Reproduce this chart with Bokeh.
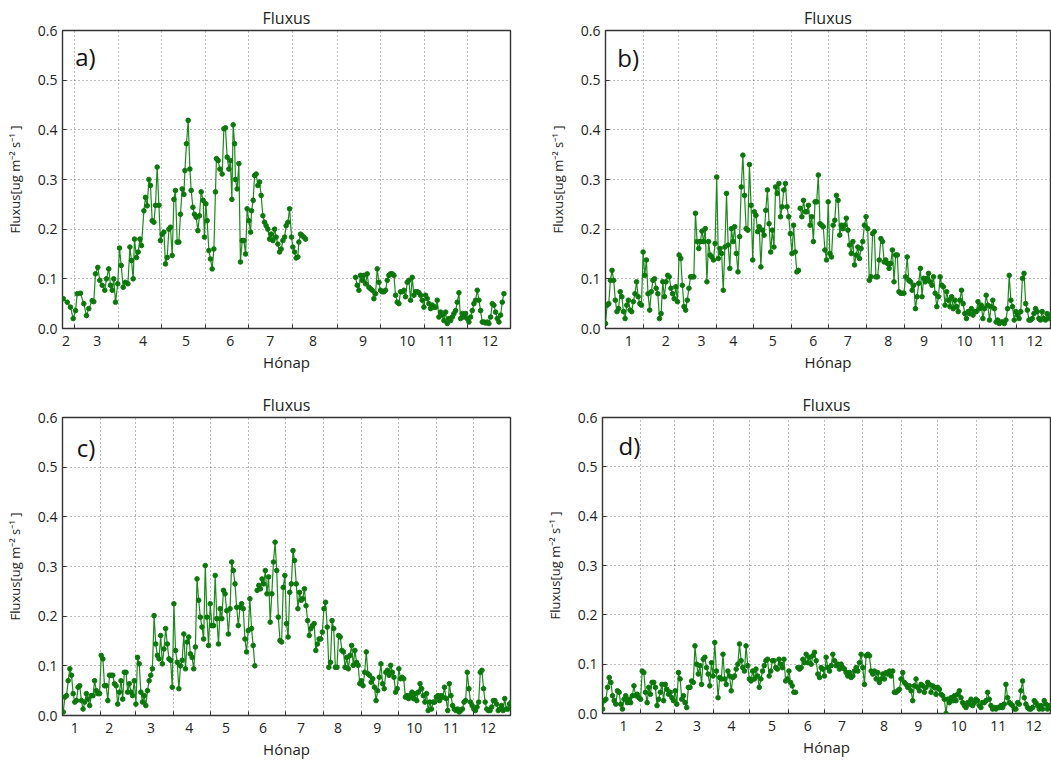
import numpy as np
from bokeh.plotting import figure
from bokeh.layouts import row, column
from bokeh.models import FixedTicker, PrintfTickFormatter, Label, Range1d
from bokeh.embed import file_html
from bokeh.resources import INLINE

# ---------------------------------------------------------------- data
# x values are day of year, y values are flux in ug m-2 s-1
MONTH_STARTS = [31, 59, 90, 120, 151, 181, 212, 243, 273, 304, 334]
Y_TICKS = [0.0, 0.1, 0.2, 0.3, 0.4, 0.5, 0.6]
Y_TITLE = "Fluxus[ug m\u207b\u00b2 s\u207b\u00b9 ]"
X_TITLE = "Hónap"
PLOT_TITLE = "Fluxus"

# panel a)
A_MONTHS = ["2", "3", "4", "5", "6", "7", "8", "9", "10", "11", "12"]
A_MONTH_POS = [53, 75, 107, 137, 168, 196, 226, 261, 292, 319, 350]
A_DAYS_1 = [51.1, 53.9, 56.2, 58.1, 59.7, 60.9, 63.2, 65.5, 67.4, 69.0,
            71.4, 72.5, 73.7, 75.3, 76.7, 78.4, 80.2, 81.4, 83.0, 84.2,
            85.4, 86.5, 87.7, 89.3, 90.5, 91.7, 93.1, 94.7, 96.4, 97.8,
            98.9, 100.1, 101.0, 102.4, 103.6, 104.8, 105.9, 107.6, 108.7, 109.9,
            111.1, 112.2, 113.4, 114.6, 115.7, 116.9, 118.1, 119.2, 120.4, 121.6,
            122.7, 123.9, 125.1, 126.2, 127.4, 128.6, 129.7, 130.9, 132.1, 133.2,
            134.4, 135.6, 136.3, 137.4, 138.6, 139.8, 140.7, 141.9, 143.0, 144.2,
            145.4, 146.5, 147.7, 149.1, 150.0, 151.0, 151.9, 153.1, 154.2, 155.4,
            156.6, 157.7, 158.4, 159.6, 160.8, 162.4, 163.6, 164.7, 165.9, 167.1,
            168.2, 169.2, 170.1, 171.1, 171.7, 172.9, 174.1, 175.2, 176.4, 177.6,
            178.8, 179.9, 181.1, 182.3, 183.0, 184.1, 185.1, 186.2, 187.4, 188.6,
            189.7, 190.9, 192.1, 193.2, 194.4, 195.6, 196.7, 197.9, 199.1, 200.2,
            201.4, 202.6, 203.7, 204.9, 206.1, 207.2, 208.4, 209.6, 211.0, 211.9,
            213.1, 214.2, 215.4, 216.1, 217.3, 218.4, 219.6, 220.8]
A_FLUX_1 = [0.06, 0.053, 0.043, 0.02, 0.036, 0.07, 0.071, 0.05, 0.026, 0.04,
            0.056, 0.054, 0.11, 0.123, 0.097, 0.087, 0.077, 0.1, 0.12, 0.087,
            0.077, 0.1, 0.053, 0.09, 0.162, 0.127, 0.083, 0.093, 0.09, 0.164,
            0.137, 0.1, 0.18, 0.143, 0.154, 0.18, 0.167, 0.237, 0.264, 0.247,
            0.3, 0.288, 0.217, 0.214, 0.248, 0.325, 0.248, 0.177, 0.19, 0.194,
            0.13, 0.143, 0.2, 0.204, 0.147, 0.26, 0.278, 0.174, 0.174, 0.23,
            0.281, 0.27, 0.318, 0.372, 0.419, 0.321, 0.278, 0.244, 0.23, 0.224,
            0.197, 0.227, 0.275, 0.258, 0.184, 0.251, 0.217, 0.157, 0.14, 0.12,
            0.16, 0.275, 0.342, 0.338, 0.321, 0.311, 0.402, 0.404, 0.345, 0.321,
            0.338, 0.26, 0.41, 0.372, 0.3, 0.281, 0.332, 0.134, 0.177, 0.177,
            0.15, 0.241, 0.217, 0.194, 0.237, 0.258, 0.308, 0.311, 0.288, 0.295,
            0.268, 0.227, 0.214, 0.207, 0.2, 0.18, 0.19, 0.177, 0.2, 0.184,
            0.17, 0.154, 0.16, 0.177, 0.184, 0.207, 0.214, 0.241, 0.184, 0.164,
            0.154, 0.142, 0.144, 0.174, 0.19, 0.187, 0.184, 0.18]
A_SPAN_2 = (255.8, 359.7)
A_FLUX_2 = [0.103, 0.087, 0.077, 0.107, 0.097, 0.107, 0.09, 0.11, 0.083, 0.08,
            0.077, 0.06, 0.07, 0.12, 0.093, 0.077, 0.074, 0.074, 0.077, 0.097,
            0.107, 0.11, 0.11, 0.107, 0.067, 0.053, 0.05, 0.074, 0.074, 0.077,
            0.064, 0.093, 0.097, 0.057, 0.103, 0.067, 0.074, 0.074, 0.072, 0.067,
            0.057, 0.043, 0.067, 0.06, 0.05, 0.04, 0.047, 0.043, 0.043, 0.057,
            0.023, 0.033, 0.027, 0.016, 0.033, 0.01, 0.02, 0.016, 0.023, 0.03,
            0.036, 0.053, 0.072, 0.02, 0.03, 0.023, 0.03, 0.02, 0.013, 0.023,
            0.036, 0.05, 0.057, 0.077, 0.057, 0.036, 0.013, 0.013, 0.011, 0.013,
            0.01, 0.023, 0.05, 0.047, 0.033, 0.02, 0.013, 0.027, 0.053, 0.07]

# panel b)
B_MONTHS = ["1", "2", "3", "4", "5", "6", "7", "8", "9", "10", "11", "12"]
B_MONTH_POS = [19, 49, 78, 104, 136, 169, 197, 230, 259, 292, 319, 349]
B_SPAN_1 = (0.0, 157.0)
B_FLUX_1 = [0.01, 0.047, 0.05, 0.097, 0.117, 0.097, 0.057, 0.034, 0.04, 0.074,
            0.064, 0.034, 0.02, 0.047, 0.057, 0.037, 0.034, 0.054, 0.07, 0.094,
            0.064, 0.05, 0.047, 0.154, 0.107, 0.138, 0.07, 0.037, 0.074, 0.097,
            0.1, 0.081, 0.07, 0.02, 0.03, 0.094, 0.064, 0.094, 0.107, 0.104,
            0.081, 0.07, 0.06, 0.084, 0.054, 0.148, 0.141, 0.087, 0.044, 0.037,
            0.057, 0.081, 0.104, 0.104, 0.104, 0.232, 0.175, 0.161, 0.175, 0.196,
            0.175, 0.201, 0.094, 0.175, 0.148, 0.144, 0.138, 0.171, 0.305, 0.141,
            0.161, 0.151, 0.077, 0.164, 0.272, 0.168, 0.121, 0.201, 0.175, 0.205,
            0.151, 0.114, 0.185, 0.285, 0.349, 0.268, 0.201, 0.198, 0.33, 0.248,
            0.138, 0.235, 0.228, 0.195, 0.205, 0.124, 0.198, 0.188, 0.238, 0.279,
            0.211, 0.154, 0.198, 0.164, 0.285, 0.272, 0.292, 0.225, 0.245, 0.279,
            0.292, 0.245, 0.225, 0.191, 0.151, 0.208, 0.154, 0.114, 0.117]
B_SPAN_2 = (158.4, 361.9)
B_FLUX_2 = [0.242, 0.225, 0.258, 0.235, 0.235, 0.248, 0.208, 0.225, 0.175, 0.255,
            0.255, 0.309, 0.211, 0.208, 0.205,
            0.158, 0.138, 0.255, 0.151, 0.144, 0.208, 0.218, 0.268, 0.258, 0.188,
            0.208, 0.201, 0.208, 0.222, 0.198, 0.168, 0.151, 0.175, 0.128, 0.148,
            0.164, 0.141, 0.161, 0.175, 0.208, 0.225, 0.201, 0.097, 0.104, 0.191,
            0.195, 0.104, 0.104, 0.138, 0.181, 0.175, 0.134, 0.138, 0.131, 0.121,
            0.131, 0.158, 0.094, 0.148, 0.148, 0.074, 0.071, 0.071, 0.071, 0.104,
            0.144, 0.097, 0.094, 0.077, 0.087, 0.04, 0.064, 0.091, 0.121, 0.064,
            0.101, 0.094, 0.101, 0.111, 0.094, 0.087, 0.104, 0.071, 0.044, 0.064,
            0.104, 0.087, 0.084, 0.047, 0.074, 0.057, 0.044, 0.064, 0.04, 0.057,
            0.044, 0.034, 0.057, 0.077, 0.05, 0.03, 0.02, 0.034, 0.03, 0.04,
            0.027, 0.034, 0.034, 0.054, 0.04, 0.047, 0.02, 0.04, 0.067, 0.047,
            0.017, 0.044, 0.057, 0.04, 0.013, 0.017, 0.01, 0.013, 0.013, 0.01,
            0.017, 0.04, 0.107, 0.057, 0.044, 0.017, 0.034, 0.027, 0.02, 0.034,
            0.101, 0.111, 0.05, 0.037, 0.017, 0.017, 0.02, 0.03, 0.04, 0.034,
            0.02, 0.017, 0.034, 0.02, 0.017, 0.03, 0.02, 0.027]

# panel c)
C_MONTHS = ["1", "2", "3", "4", "5", "6", "7", "8", "9", "10", "11", "12"]
C_MONTH_POS = [10, 38, 72, 103, 133, 163, 194, 224, 256, 286, 316, 346]
C_SPAN_1 = (0.6, 156.4)
C_FLUX_1 = [0.007, 0.037, 0.04, 0.07, 0.094, 0.081, 0.044, 0.027, 0.03, 0.057,
            0.06, 0.03, 0.013, 0.027, 0.044, 0.033, 0.02, 0.04, 0.04, 0.07,
            0.05, 0.044, 0.044, 0.121, 0.114, 0.06, 0.06, 0.03, 0.081, 0.081,
            0.081, 0.064, 0.06, 0.023, 0.047, 0.07, 0.033, 0.087, 0.087, 0.047,
            0.064, 0.047, 0.04, 0.07, 0.023, 0.117, 0.104, 0.047, 0.027, 0.04,
            0.02, 0.05, 0.07, 0.081, 0.094, 0.201, 0.144, 0.121, 0.114, 0.161,
            0.104, 0.134, 0.175, 0.144, 0.114, 0.111, 0.057, 0.225, 0.131, 0.107,
            0.054, 0.1, 0.111, 0.164, 0.094, 0.148, 0.158, 0.124, 0.117, 0.094,
            0.138, 0.275, 0.232, 0.198, 0.178, 0.154, 0.302, 0.198, 0.141, 0.225,
            0.181, 0.181, 0.282, 0.195, 0.144, 0.215, 0.195, 0.252, 0.245, 0.211,
            0.164, 0.215, 0.309, 0.292, 0.265, 0.218, 0.181, 0.218, 0.225, 0.215,
            0.154, 0.128, 0.171, 0.235, 0.175, 0.141, 0.1]
C_SPAN_2 = (158.3, 364.9)
C_FLUX_2 = [0.252, 0.262, 0.255, 0.275, 0.265, 0.292, 0.245, 0.279, 0.188, 0.245,
            0.309, 0.349, 0.292, 0.198, 0.151, 0.148, 0.258,
            0.282, 0.185, 0.158, 0.248, 0.265, 0.332, 0.312, 0.265, 0.215, 0.248,
            0.232, 0.235, 0.255, 0.221, 0.191, 0.161, 0.175, 0.181, 0.185, 0.131,
            0.144, 0.154, 0.154, 0.168, 0.215, 0.228, 0.178, 0.097, 0.107, 0.191,
            0.175, 0.097, 0.097, 0.161, 0.158, 0.131, 0.128, 0.097, 0.117, 0.094,
            0.121, 0.141, 0.101, 0.131, 0.107, 0.101, 0.064, 0.07, 0.06, 0.087,
            0.128, 0.084, 0.081, 0.067, 0.074, 0.057, 0.03, 0.05, 0.077, 0.104,
            0.064, 0.054, 0.087, 0.091, 0.081, 0.101, 0.087, 0.077, 0.047, 0.054,
            0.094, 0.074, 0.077, 0.074, 0.037, 0.04, 0.034, 0.04, 0.047, 0.034,
            0.044, 0.03, 0.047, 0.064, 0.054, 0.04, 0.027, 0.044, 0.01, 0.027,
            0.013, 0.027, 0.027, 0.037, 0.04, 0.03, 0.04, 0.037, 0.057, 0.034,
            0.01, 0.064, 0.04, 0.02, 0.013, 0.01, 0.013, 0.007, 0.01, 0.013,
            0.027, 0.03, 0.087, 0.054, 0.027, 0.02, 0.013, 0.01, 0.017, 0.027,
            0.087, 0.091, 0.054, 0.027, 0.013, 0.01, 0.01, 0.017, 0.03, 0.03,
            0.023, 0.01, 0.013, 0.02, 0.01, 0.034, 0.013, 0.013, 0.023, 0.027]

# panel d)
D_MONTHS = ["1", "2", "3", "4", "5", "6", "7", "8", "9", "10", "11", "12"]
D_MONTH_POS = [17, 46, 77, 105, 138, 167, 195, 229, 257, 290, 322, 351]
D_SPAN_1 = (0.1, 157.1)
D_FLUX_1 = [0.009, 0.026, 0.029, 0.053, 0.073, 0.063, 0.036, 0.026, 0.019, 0.046,
            0.043, 0.019, 0.009, 0.029, 0.036, 0.022, 0.029, 0.022, 0.036, 0.056,
            0.036, 0.039, 0.032, 0.029, 0.086, 0.083, 0.043, 0.022, 0.053, 0.039,
            0.063, 0.063, 0.053, 0.016, 0.029, 0.043, 0.059, 0.026, 0.059, 0.049,
            0.039, 0.043, 0.032, 0.026, 0.046, 0.019, 0.083, 0.07, 0.029, 0.036,
            0.022, 0.012, 0.053, 0.053, 0.066, 0.063, 0.137, 0.1, 0.08, 0.097,
            0.059, 0.11, 0.114, 0.093, 0.08, 0.056, 0.103, 0.076, 0.144, 0.086,
            0.032, 0.073, 0.07, 0.12, 0.07, 0.059, 0.086, 0.076, 0.046, 0.073,
            0.076, 0.09, 0.1, 0.141, 0.107, 0.093, 0.086, 0.137, 0.097, 0.07,
            0.066, 0.086, 0.07, 0.09, 0.076, 0.053, 0.07, 0.086, 0.097, 0.107,
            0.11, 0.076, 0.086, 0.107, 0.107, 0.093, 0.09, 0.11, 0.1, 0.093,
            0.11, 0.066, 0.07, 0.086, 0.063, 0.056, 0.043, 0.043]
D_SPAN_2 = (159.0, 364.9)
D_FLUX_2 = [0.093, 0.09, 0.093, 0.11, 0.103, 0.12, 0.103, 0.114, 0.1, 0.117,
            0.124, 0.107, 0.08, 0.073, 0.093, 0.09, 0.076,
            0.114, 0.093, 0.086, 0.097, 0.12, 0.107, 0.097, 0.1, 0.09, 0.1,
            0.093, 0.09, 0.083, 0.076, 0.083, 0.073, 0.076, 0.086, 0.093, 0.086,
            0.103, 0.12, 0.093, 0.059, 0.117, 0.12, 0.117, 0.086, 0.08, 0.086,
            0.07, 0.083, 0.063, 0.07, 0.08, 0.07, 0.083, 0.08, 0.086, 0.076,
            0.086, 0.043, 0.043, 0.046, 0.049, 0.07, 0.083, 0.063, 0.059, 0.053,
            0.056, 0.046, 0.026, 0.056, 0.07, 0.053, 0.046, 0.059, 0.056, 0.043,
            0.053, 0.063, 0.059, 0.043, 0.056, 0.053, 0.039, 0.053, 0.049, 0.039,
            0.036, 0.029, 0.0, 0.029, 0.022, 0.032, 0.026, 0.036, 0.026, 0.039,
            0.046, 0.032, 0.022, 0.016, 0.012, 0.022, 0.019, 0.029, 0.016, 0.022,
            0.029, 0.026, 0.016, 0.012, 0.022, 0.022, 0.026, 0.043, 0.029, 0.016,
            0.009, 0.012, 0.009, 0.012, 0.012, 0.016, 0.012, 0.019, 0.059, 0.032,
            0.022, 0.019, 0.016, 0.009, 0.009, 0.022, 0.019, 0.046, 0.066, 0.032,
            0.019, 0.012, 0.009, 0.009, 0.012, 0.026, 0.022, 0.016, 0.009, 0.016,
            0.009, 0.026, 0.019, 0.009, 0.016, 0.012]

# ---------------------------------------------------------------- helpers
FONT = "Open Sans"
TEXT = "#222222"
LINE_GREEN = "#1b8a1b"
DOT_GREEN = "#0c780c"


def daily(span, values):
    """Day positions for a run of consecutive observations."""
    return np.linspace(span[0], span[1], len(values))


def join(*segments):
    """Join observation runs, leaving a gap (NaN) between them."""
    xs, ys = [], []
    for i, (d, v) in enumerate(segments):
        if i:
            xs.append(np.nan)
            ys.append(np.nan)
        xs.extend(list(d))
        ys.extend(list(v))
    return np.array(xs, dtype=float), np.array(ys, dtype=float)


def panel(tag, tag_xy, x_range, days, flux, month_pos, months, border, frame):
    left, top, right, bottom = border
    p = figure(frame_width=frame[0], frame_height=frame[1],
               x_range=Range1d(*x_range), y_range=Range1d(0, 0.6),
               output_backend="svg", toolbar_location=None,
               min_border_left=left, min_border_top=top,
               min_border_right=right, min_border_bottom=bottom,
               title=PLOT_TITLE)
    p.background_fill_color = "white"
    p.border_fill_color = "white"
    p.outline_line_color = "#333333"
    p.outline_line_width = 1.4

    p.title.align = "center"
    p.title.text_font = FONT
    p.title.text_font_size = "16px"
    p.title.text_font_style = "normal"
    p.title.text_color = TEXT
    p.title.standoff = 4

    # month labels between the month-start grid lines
    xa = p.xaxis[0]
    xa.ticker = FixedTicker(ticks=month_pos, minor_ticks=MONTH_STARTS)
    xa.major_label_overrides = {d: m for d, m in zip(month_pos, months)}
    xa.major_tick_in = 0
    xa.major_tick_out = 0
    xa.minor_tick_in = 4
    xa.minor_tick_out = 0
    xa.minor_tick_line_color = "#333333"
    xa.axis_line_color = None
    xa.axis_label = X_TITLE
    xa.axis_label_text_font = FONT
    xa.axis_label_text_font_size = "15px"
    xa.axis_label_text_font_style = "normal"
    xa.axis_label_text_color = TEXT
    xa.axis_label_standoff = 3
    xa.major_label_text_font = FONT
    xa.major_label_text_font_size = "14px"
    xa.major_label_text_color = TEXT
    xa.major_label_standoff = 7

    ya = p.yaxis[0]
    ya.ticker = FixedTicker(ticks=Y_TICKS)
    ya.formatter = PrintfTickFormatter(format="%.1f")
    ya.major_tick_in = 4
    ya.major_tick_out = 0
    ya.minor_tick_in = 0
    ya.minor_tick_out = 0
    ya.major_tick_line_color = "#333333"
    ya.axis_line_color = None
    ya.axis_label = Y_TITLE
    ya.axis_label_text_font = FONT
    ya.axis_label_text_font_size = "13px"
    ya.axis_label_text_font_style = "normal"
    ya.axis_label_text_color = TEXT
    ya.axis_label_standoff = 11
    ya.major_label_text_font = FONT
    ya.major_label_text_font_size = "14px"
    ya.major_label_text_color = TEXT
    ya.major_label_standoff = 5

    p.xgrid.ticker = FixedTicker(ticks=MONTH_STARTS)
    p.ygrid.ticker = FixedTicker(ticks=Y_TICKS)
    p.grid.grid_line_color = "#555555"
    p.grid.grid_line_dash = "1 3"
    p.grid.grid_line_width = 1
    p.grid.grid_line_alpha = 0.8

    p.line(days, flux, line_color=LINE_GREEN, line_width=1.2)
    p.scatter(days, flux, marker="circle", size=4.6,
              fill_color=DOT_GREEN, line_color=DOT_GREEN)

    p.add_layout(Label(x=tag_xy[0], y=tag_xy[1], text=tag,
                       text_font=FONT, text_font_size="24px",
                       text_color="#111111", text_baseline="middle",
                       text_align="left"))
    return p


# ---------------------------------------------------------------- panels
a_x, a_y = join((A_DAYS_1, A_FLUX_1), (daily(A_SPAN_2, A_FLUX_2), A_FLUX_2))
b_x, b_y = join((daily(B_SPAN_1, B_FLUX_1), B_FLUX_1), (daily(B_SPAN_2, B_FLUX_2), B_FLUX_2))
c_x, c_y = join((daily(C_SPAN_1, C_FLUX_1), C_FLUX_1), (daily(C_SPAN_2, C_FLUX_2), C_FLUX_2))
d_x, d_y = join((daily(D_SPAN_1, D_FLUX_1), D_FLUX_1), (daily(D_SPAN_2, D_FLUX_2), D_FLUX_2))

pa = panel("a)", (59.5, 0.547), (50.6, 364.3), a_x, a_y, A_MONTH_POS, A_MONTHS,
           (62, 30, 20, 57), (448, 298))
pb = panel("b)", (9.6, 0.546), (0.0, 362.0), b_x, b_y, B_MONTH_POS, B_MONTHS,
           (75, 30, 1, 57), (445, 298))
pc = panel("c)", (11.5, 0.54), (0.0, 364.3), c_x, c_y, C_MONTH_POS, C_MONTHS,
           (62, 29, 20, 50), (448, 298))
pd = panel("d)", (13.1, 0.543), (0.0, 364.6), d_x, d_y, D_MONTH_POS, D_MONTHS,
           (72, 32, 1, 49), (448, 296))

layout = column(row(pa, pb), row(pc, pd))

with open("out.html", "w") as f:
    f.write(file_html(layout, INLINE))
